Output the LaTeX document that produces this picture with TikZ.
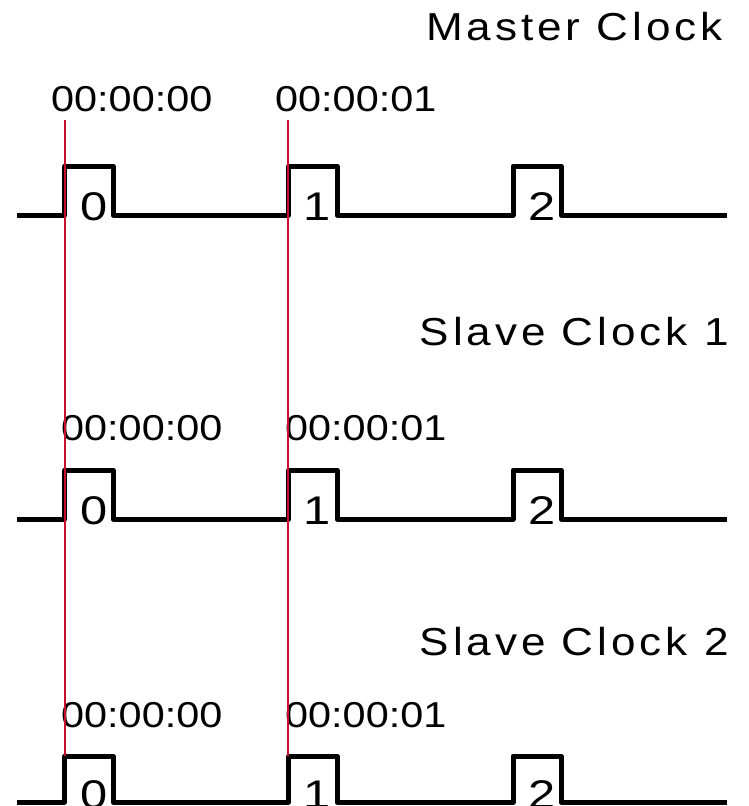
\documentclass[tikz,border=0pt]{standalone}
\usepackage{fontspec}
\setmainfont{Liberation Sans}
\newfontfamily\labfont[LetterSpace=9]{Liberation Sans}
\definecolor{mark}{RGB}{200,16,46}
\newcommand\clockwave[2]{%
  \draw[wave] (17,#2) -- (64.7,#2) -- (64.7,#1) -- (113,#1) -- (113,#2)
    -- (288.7,#2) -- (288.7,#1) -- (337,#1) -- (337,#2)
    -- (513,#2) -- (513,#1) -- (561,#1) -- (561,#2) -- (727,#2);}
\begin{document}
\begin{tikzpicture}[x=1pt,y=-1pt,
  wave/.style={line width=5pt,line join=round},
  clocklabel/.style={inner sep=0pt,anchor=base east,font=\fontsize{39}{44}\labfont},
  stamp/.style={inner sep=0pt,anchor=base west,font=\fontsize{36}{40}\selectfont},
  pulsenum/.style={inner sep=0pt,anchor=base west,font=\fontsize{40}{44}\selectfont},
  marker/.style={draw=mark,line width=1.8pt}]
\useasboundingbox (0,0) rectangle (748,806);
% Master
\node[clocklabel] (mlab) at (723,40) {\scalebox{1.13}[1]{Master Clock}};
\clockwave{166}{215}
\node[stamp] (mt0) at (51,111) {\scalebox{1.15}[1]{00:00:00}};
\node[stamp] (mt1) at (275,111) {\scalebox{1.15}[1]{00:00:01}};
\node[pulsenum] (mp0) at (80,220) {\scalebox{1.22}[1]{0}};
\node[pulsenum] (mp1) at (303,220) {\scalebox{1.22}[1]{1}};
\node[pulsenum] (mp2) at (528,220) {\scalebox{1.22}[1]{2}};
% Slave 1
\node[clocklabel] (s1lab) at (729,345) {\scalebox{1.13}[1]{Slave Clock 1}};
\clockwave{470}{519}
\node[stamp] (s1t0) at (61,440) {\scalebox{1.15}[1]{00:00:00}};
\node[stamp] (s1t1) at (285,440) {\scalebox{1.15}[1]{00:00:01}};
\node[pulsenum] (s1p0) at (80,524) {\scalebox{1.22}[1]{0}};
\node[pulsenum] (s1p1) at (303,524) {\scalebox{1.22}[1]{1}};
\node[pulsenum] (s1p2) at (528,524) {\scalebox{1.22}[1]{2}};
% Slave 2
\node[clocklabel] (s2lab) at (729,655) {\scalebox{1.13}[1]{Slave Clock 2}};
\clockwave{756}{802}
\node[stamp] (s2t0) at (61,727) {\scalebox{1.15}[1]{00:00:00}};
\node[stamp] (s2t1) at (285,727) {\scalebox{1.15}[1]{00:00:01}};
\node[pulsenum] (s2p0) at (80,808) {\scalebox{1.22}[1]{0}};
\node[pulsenum] (s2p1) at (303,808) {\scalebox{1.22}[1]{1}};
\node[pulsenum] (s2p2) at (528,808) {\scalebox{1.22}[1]{2}};
% sync markers
\coordinate (ra) at (65,120);
\coordinate (rb) at (65,756);
\coordinate (rc) at (288.3,120);
\coordinate (rd) at (288.3,756);
\draw[marker] (ra) -- (rb);
\draw[marker] (rc) -- (rd);
\end{tikzpicture}
\end{document}
